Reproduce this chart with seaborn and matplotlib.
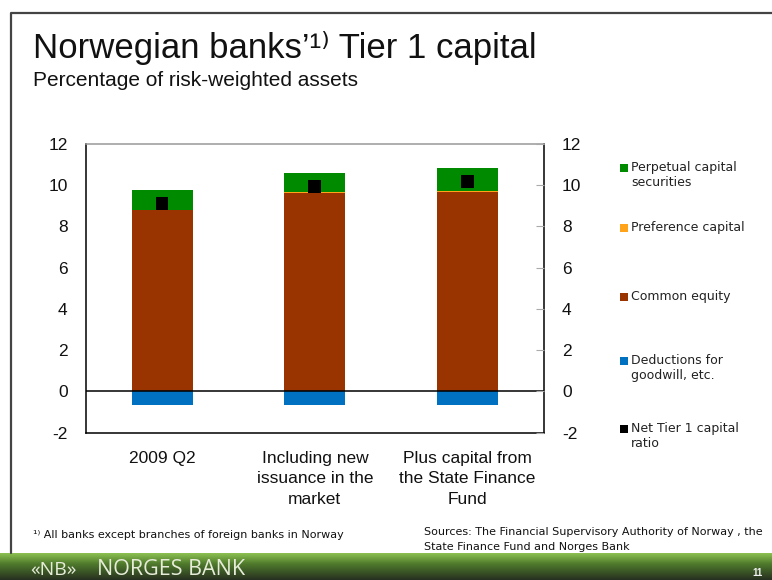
import numpy as np
import pandas as pd
import matplotlib
matplotlib.use("Agg")
import matplotlib.pyplot as plt
from matplotlib.patches import Rectangle
from matplotlib.lines import Line2D
import seaborn as sns

# ---- data -------------------------------------------------------------
categories = ["2009 Q2",
              "Including new\nissuance in the\nmarket",
              "Plus capital from\nthe State Finance\nFund"]
common_equity = [8.82, 9.63, 9.66]
preference_capital = [0.0, 0.05, 0.05]
perpetual_securities = [0.94, 0.92, 1.13]
deductions = [-0.65, -0.65, -0.65]
net_tier1_ratio = [9.11, 9.95, 10.19]
y_ticks = [-2, 0, 2, 4, 6, 8, 10, 12]

legend_labels = ["Perpetual capital\nsecurities", "Preference capital",
                 "Common equity", "Deductions for\ngoodwill, etc.",
                 "Net Tier 1 capital\nratio"]

C_PERP = "#008a00"
C_PREF = "#ffa31a"
C_COMMON = "#993300"
C_DEDUCT = "#0070c0"
C_NET = "#000000"

# ---- figure -------------------------------------------------------------
sns.set_theme(style="white")
plt.rcParams["font.family"] = ["Liberation Sans", "DejaVu Sans"]

W, H = 772, 580
fig = plt.figure(figsize=(W / 100, H / 100), dpi=100)
fig.patch.set_facecolor("white")


def fx(x):
    return x / W


def fy(y):
    return 1 - y / H


ax_left, ax_right, ax_top, ax_bot = 85.7, 544, 144, 432.7
ax = fig.add_axes([fx(ax_left), fy(ax_bot), fx(ax_right - ax_left),
                   (ax_bot - ax_top) / H])

df = pd.DataFrame({
    "cat": categories,
    "common": common_equity,
    "pref": preference_capital,
    "perp": perpetual_securities,
    "deduct": deductions,
    "net": net_tier1_ratio,
})
df["pref_base"] = df["common"]
df["perp_base"] = df["common"] + df["pref"]

bw = 0.4
sns.barplot(data=df, x="cat", y="common", color=C_COMMON, width=bw,
            saturation=1, ax=ax, linewidth=0)
sns.barplot(data=df, x="cat", y="pref", bottom=df["pref_base"], color=C_PREF,
            width=bw, saturation=1, ax=ax, linewidth=0)
sns.barplot(data=df, x="cat", y="perp", bottom=df["perp_base"], color=C_PERP,
            width=bw, saturation=1, ax=ax, linewidth=0)
sns.barplot(data=df, x="cat", y="deduct", color=C_DEDUCT, width=bw,
            saturation=1, ax=ax, linewidth=0)
sns.scatterplot(data=df, x="cat", y="net", marker="s", s=85, color=C_NET,
                edgecolor="none", ax=ax, zorder=5)

ax.axhline(0, color="black", lw=1.1, zorder=4)
ax.set_xlim(-0.5, 2.5)
ax.set_ylim(-2, 12)
ax.set_yticks(y_ticks)
ax.set_yticklabels([str(t) for t in y_ticks])
ax.set_xlabel("")
ax.set_ylabel("")
ax.tick_params(axis="y", which="major", length=0, pad=13, labelsize=12.5,
               colors="#111111")
ax.tick_params(axis="x", which="major", length=0, pad=13, labelsize=12.5,
               colors="#111111")
ax.set_xticks(range(len(categories)))
ax.set_xticklabels(categories, linespacing=1.45)
ax.set_xticks([0.5, 1.5], minor=True)
ax.tick_params(axis="x", which="minor", direction="in", length=4,
               color="#bbbbbb", width=0.8)

for side in ["left", "bottom", "right"]:
    ax.spines[side].set_color("black")
    ax.spines[side].set_linewidth(1.1)
ax.spines["top"].set_color("#999999")
ax.spines["top"].set_linewidth(1.1)

ax2 = ax.twinx()
ax2.set_ylim(-2, 12)
ax2.set_yticks(y_ticks)
ax2.set_yticklabels([str(t) for t in y_ticks])
ax2.tick_params(axis="y", direction="in", length=6, width=0.8,
                color="#aaaaaa", pad=13, labelsize=12.5, labelcolor="#111111")
for s in ax2.spines.values():
    s.set_visible(False)
ax2.grid(False)

# ---- legend -----------------------------------------------------------
leg_colors = [C_PERP, C_PREF, C_COMMON, C_DEDUCT, C_NET]
leg_y = [168, 228, 297, 361, 429]
for lab, col, yy in zip(legend_labels, leg_colors, leg_y):
    fig.add_artist(Rectangle((fx(620), fy(yy + 4)), 8 / W, 8 / H,
                             transform=fig.transFigure, color=col, lw=0))
    fig.text(fx(631), fy(yy - 7), lab, fontsize=9, family=["DejaVu Sans"],
             color="#222222", va="top", ha="left", linespacing=1.2)

# ---- titles -----------------------------------------------------------
fig.text(fx(33), fy(58), "Norwegian banks’¹⁾ Tier 1 capital", fontsize=25,
         color="#111111", va="baseline", ha="left")
fig.text(fx(33), fy(86), "Percentage of risk-weighted assets", fontsize=15,
         color="#111111", va="baseline", ha="left")

# ---- notes ------------------------------------------------------------
note_font = ["DejaVu Sans"]
fig.text(fx(33), fy(538), "¹⁾ All banks except branches of foreign banks in Norway",
         fontsize=8, family=note_font, color="#111111", va="baseline",
         ha="left")
fig.text(fx(424), fy(535), "Sources: The Financial Supervisory Authority of Norway , the",
         fontsize=8, family=note_font, color="#111111", va="baseline",
         ha="left")
fig.text(fx(424), fy(550), "State Finance Fund and Norges Bank",
         fontsize=8, family=note_font, color="#111111", va="baseline",
         ha="left")

# ---- slide frame and footer band ----------------------------------------
fig.add_artist(Line2D([fx(11), fx(11), fx(W)], [fy(553), fy(13), fy(13)],
                      transform=fig.transFigure, color="#444444", lw=1.6))

band = fig.add_axes([0, 0, 1, (H - 553) / H])
grad = np.linspace(0, 1, 64).reshape(-1, 1)
top_c = np.array(matplotlib.colors.to_rgb("#8cc152"))
mid_c = np.array(matplotlib.colors.to_rgb("#4f7a2c"))
bot_c = np.array(matplotlib.colors.to_rgb("#263020"))
cols = np.where(grad[..., None] < 0.4,
                top_c + (mid_c - top_c) * (grad[..., None] / 0.4),
                mid_c + (bot_c - mid_c) * ((grad[..., None] - 0.4) / 0.6))
band.imshow(cols, aspect="auto", extent=[0, 1, 0, 1])
band.set_axis_off()
fig.text(fx(30), fy(575), "«NB»", fontsize=14,
         family=["Open Sans", "DejaVu Sans"], color="#e6ecd8",
         va="baseline", ha="left")
fig.text(fx(97), fy(575), "NORGES BANK", fontsize=15.5,
         family=["Open Sans", "DejaVu Sans"], color="#e6ecd8",
         va="baseline", ha="left")
fig.text(fx(752), fy(576), "11", fontsize=7, fontweight="bold",
         color="#f0f0f0", va="baseline", ha="left")

fig.savefig("out.png", dpi=100)
